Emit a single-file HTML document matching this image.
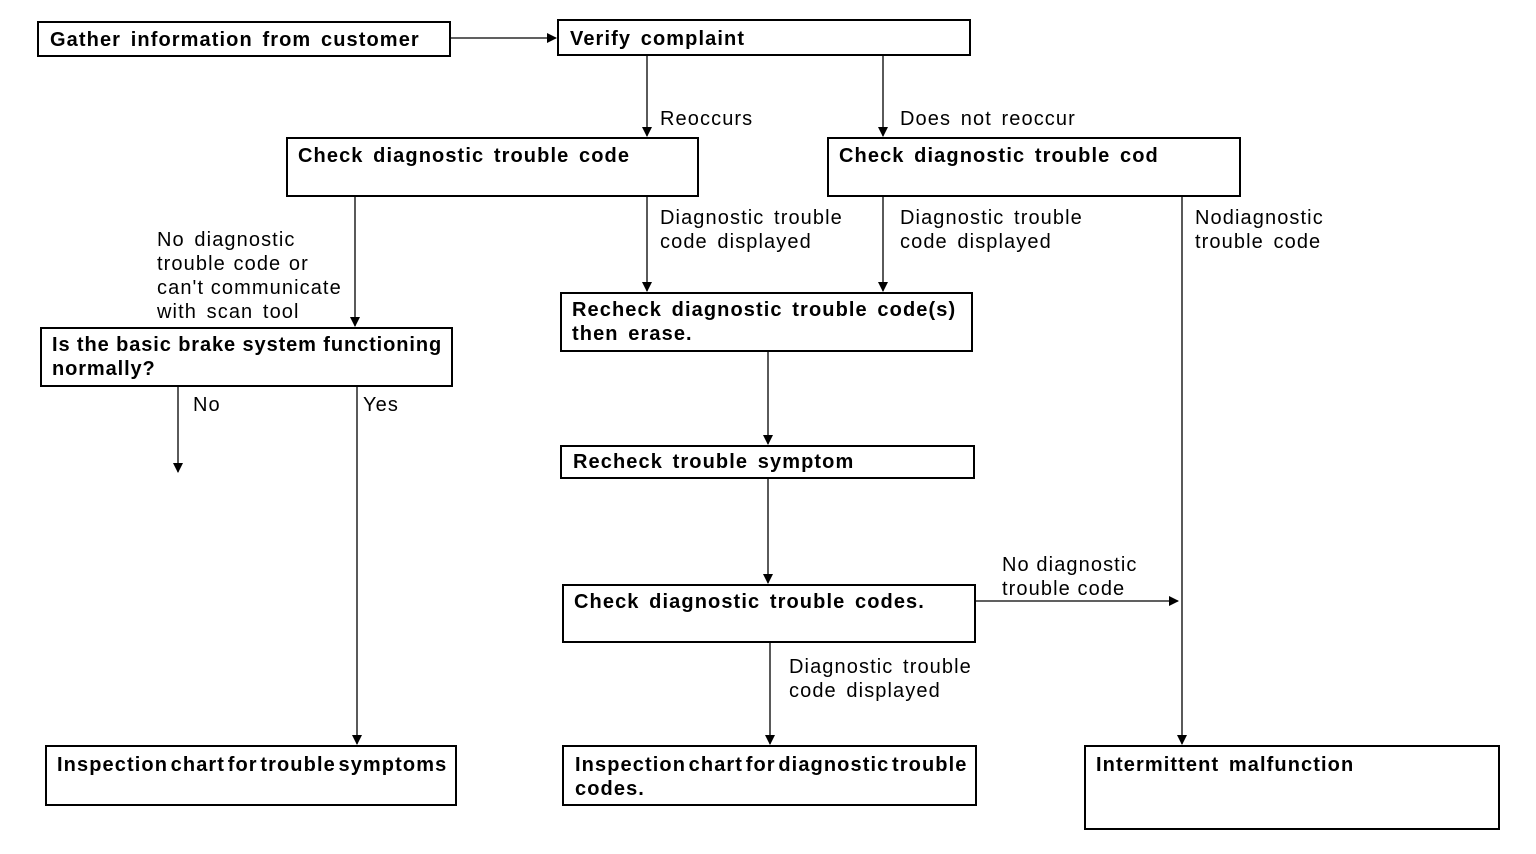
<!DOCTYPE html>
<html><head><meta charset="utf-8"><style>
html,body{margin:0;padding:0;background:#fff;width:1536px;height:854px;overflow:hidden}
svg text{font-family:"Liberation Sans",Arial,sans-serif;font-size:20px;fill:#000;letter-spacing:1.1px}
.b{font-weight:bold;word-spacing:3px}
.n{word-spacing:3px}
</style></head><body>
<svg width="1536" height="854" viewBox="0 0 1536 854" xmlns="http://www.w3.org/2000/svg">
<defs><marker id="a" markerWidth="10" markerHeight="14" refX="9" refY="7" orient="auto" markerUnits="userSpaceOnUse"><path d="M0,2 L10,7 L0,12 z" fill="#000"/></marker></defs>
<g fill="none" stroke="#000" stroke-width="2">
<rect x="38" y="22" width="412" height="34"/>
<rect x="558" y="20" width="412" height="35"/>
<rect x="287" y="138" width="411" height="58"/>
<rect x="828" y="138" width="412" height="58"/>
<rect x="561" y="293" width="411" height="58"/>
<rect x="41" y="328" width="411" height="58"/>
<rect x="561" y="446" width="413" height="32"/>
<rect x="563" y="585" width="412" height="57"/>
<rect x="46" y="746" width="410" height="59"/>
<rect x="563" y="746" width="413" height="59"/>
<rect x="1085" y="746" width="414" height="83"/>
</g>
<g stroke="#000" stroke-width="1.3" marker-end="url(#a)">
<line x1="450" y1="38" x2="556" y2="38"/>
<line x1="647" y1="56" x2="647" y2="136"/>
<line x1="883" y1="56" x2="883" y2="136"/>
<line x1="355" y1="196" x2="355" y2="326"/>
<line x1="647" y1="196" x2="647" y2="291"/>
<line x1="883" y1="196" x2="883" y2="291"/>
<line x1="1182" y1="196" x2="1182" y2="744"/>
<line x1="178" y1="386" x2="178" y2="472"/>
<line x1="357" y1="386" x2="357" y2="744"/>
<line x1="768" y1="351" x2="768" y2="444"/>
<line x1="768" y1="478" x2="768" y2="583"/>
<line x1="975" y1="601" x2="1178" y2="601"/>
<line x1="770" y1="642" x2="770" y2="744"/>
</g>
<text class="b" x="50" y="46">Gather information from customer</text>
<text class="b" x="570" y="45">Verify complaint</text>
<text class="b" x="298" y="162">Check diagnostic trouble code</text>
<text class="b" x="839" y="162">Check diagnostic trouble cod</text>
<text class="b" x="572" y="316">Recheck diagnostic trouble code(s)</text>
<text class="b" x="572" y="340">then erase.</text>
<text class="b" x="52" y="351" style="word-spacing:0;letter-spacing:0.9px">Is the basic brake system functioning</text>
<text class="b" x="52" y="375" style="word-spacing:0;letter-spacing:0.9px">normally?</text>
<text class="b" x="573" y="468">Recheck trouble symptom</text>
<text class="b" x="574" y="608">Check diagnostic trouble codes.</text>
<text class="b" x="57" y="771" style="word-spacing:-4px">Inspection chart for trouble symptoms</text>
<text class="b" x="575" y="771" style="word-spacing:-4px">Inspection chart for diagnostic trouble</text>
<text class="b" x="575" y="795">codes.</text>
<text class="b" x="1096" y="771">Intermittent malfunction</text>
<text class="n" x="660" y="125">Reoccurs</text>
<text class="n" x="900" y="125">Does not reoccur</text>
<text class="n" x="157" y="246">No diagnostic</text>
<text class="n" x="157" y="270" style="word-spacing:1px">trouble code or</text>
<text x="157" y="294">can't communicate</text>
<text class="n" x="157" y="318">with scan tool</text>
<text class="n" x="660" y="224">Diagnostic trouble</text>
<text class="n" x="660" y="248">code displayed</text>
<text class="n" x="900" y="224">Diagnostic trouble</text>
<text class="n" x="900" y="248">code displayed</text>
<text x="1195" y="224">Nodiagnostic</text>
<text class="n" x="1195" y="248">trouble code</text>
<text x="193" y="411">No</text>
<text x="363" y="411">Yes</text>
<text x="1002" y="571">No diagnostic</text>
<text x="1002" y="595">trouble code</text>
<text class="n" x="789" y="673">Diagnostic trouble</text>
<text class="n" x="789" y="697">code displayed</text>
</svg>
</body></html>
